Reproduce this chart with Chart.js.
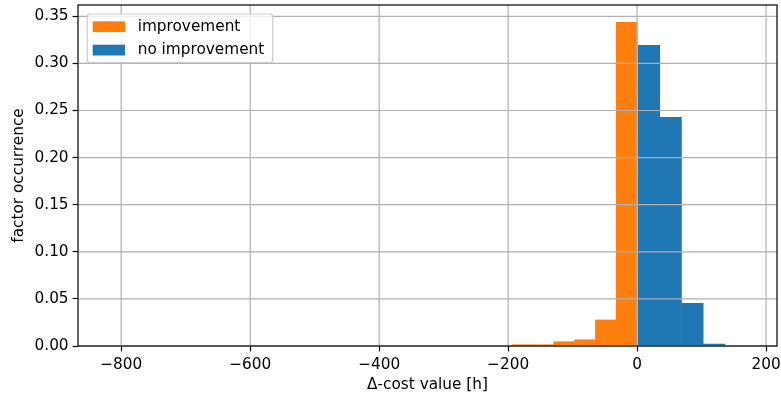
<!DOCTYPE html>
<html>
<head>
<meta charset="utf-8">
<script src="https://cdn.jsdelivr.net/npm/chart.js@4/dist/chart.umd.min.js"></script>
<style>
  html, body { margin: 0; padding: 0; background: #ffffff; }
  #wrap { width: 781px; height: 396px; }
</style>
</head>
<body>
<div id="wrap"><canvas id="c" width="781" height="396"></canvas></div>
<script>
// Histogram of Δ-cost values, split into runs that improved and runs that did not.
const improvementBinWidth = 32.3;
const improvementCenters = [-177.65, -145.35, -113.05, -80.75, -48.45, -16.15];
const improvementValues  = [0.0017, 0.0017, 0.0049, 0.0070, 0.0280, 0.3440];

const noImprovementBinWidth = 33.7;
const noImprovementCenters = [18.35, 52.05, 85.75, 119.45];
const noImprovementValues  = [0.3195, 0.2430, 0.0456, 0.0024];

const seriesLabels = ['improvement', 'no improvement'];
const seriesColors = ['#ff7f0e', '#1f77b4'];

const xTickValues = [-800, -600, -400, -200, 0, 200];
const yTickStep = 0.05;
const xRange = [-867, 217];
const yRange = [0, 0.362];

const FONT = 'DejaVu Sans';
const FS = 15.3;
const GRID_COLOR = '#b0b0b0';
// neighbouring bars overlap slightly so no hairline gap shows between them
const BAR_OVERLAP = 0.9;

Chart.defaults.font.family = FONT;
Chart.defaults.font.size = FS;
Chart.defaults.color = '#000000';

// Bars on a linear x scale take their width from the smallest spacing between bar centres.
const allCenters = improvementCenters.concat(noImprovementCenters).sort((a, b) => a - b);
let minSpacing = Infinity;
for (let i = 1; i < allCenters.length; i++) minSpacing = Math.min(minSpacing, allCenters[i] - allCenters[i - 1]);

const toPoints = (xs, ys) => xs.map((x, i) => ({ x, y: ys[i] }));

// Grid lines sit above the bars; frame and legend are drawn last.
const overlay = {
  id: 'overlay',
  afterDatasetsDraw(chart) {
    const { ctx, chartArea: a, scales } = chart;
    ctx.save();
    ctx.strokeStyle = GRID_COLOR;
    ctx.lineWidth = 1.2;
    ctx.beginPath();
    scales.x.ticks.forEach(t => {
      const px = scales.x.getPixelForValue(t.value);
      ctx.moveTo(px, a.top); ctx.lineTo(px, a.bottom);
    });
    scales.y.ticks.forEach(t => {
      const py = scales.y.getPixelForValue(t.value);
      ctx.moveTo(a.left, py); ctx.lineTo(a.right, py);
    });
    ctx.stroke();
    ctx.restore();
  },
  afterDraw(chart) {
    const { ctx, chartArea: a } = chart;
    ctx.save();
    ctx.strokeStyle = '#000000';
    ctx.lineWidth = 1.2;
    ctx.strokeRect(a.left, a.top, a.right - a.left, a.bottom - a.top);

    const bx = a.left + 9.3, by = a.top + 9, bw = 185.4, bh = 48.7, r = 3;
    ctx.beginPath();
    ctx.moveTo(bx + r, by);
    ctx.lineTo(bx + bw - r, by);
    ctx.quadraticCurveTo(bx + bw, by, bx + bw, by + r);
    ctx.lineTo(bx + bw, by + bh - r);
    ctx.quadraticCurveTo(bx + bw, by + bh, bx + bw - r, by + bh);
    ctx.lineTo(bx + r, by + bh);
    ctx.quadraticCurveTo(bx, by + bh, bx, by + bh - r);
    ctx.lineTo(bx, by + r);
    ctx.quadraticCurveTo(bx, by, bx + r, by);
    ctx.closePath();
    ctx.fillStyle = 'rgba(255,255,255,0.8)';
    ctx.fill();
    ctx.strokeStyle = '#cccccc';
    ctx.lineWidth = 1.2;
    ctx.stroke();

    ctx.font = FS + 'px "' + FONT + '"';
    ctx.textBaseline = 'middle';
    ctx.textAlign = 'left';
    chart.data.datasets.forEach((ds, i) => {
      const py = by + 7.3 + i * 23.4;
      ctx.fillStyle = ds.backgroundColor;
      ctx.fillRect(bx + 5.4, py, 32.3, 10.8);
      ctx.fillStyle = '#000000';
      ctx.fillText(ds.label, bx + 50.4, py + 5.6);
    });
    ctx.restore();
  }
};

const gridOpts = {
  offset: false,
  drawOnChartArea: false,
  color: GRID_COLOR,
  tickColor: '#000000', tickWidth: 1.2, tickLength: 5.4,
};

new Chart(document.getElementById('c'), {
  type: 'bar',
  data: {
    datasets: [
      {
        label: seriesLabels[0],
        data: toPoints(improvementCenters, improvementValues),
        backgroundColor: seriesColors[0],
        barPercentage: (improvementBinWidth + BAR_OVERLAP) / minSpacing,
      },
      {
        label: seriesLabels[1],
        data: toPoints(noImprovementCenters, noImprovementValues),
        backgroundColor: seriesColors[1],
        barPercentage: (noImprovementBinWidth + BAR_OVERLAP) / minSpacing,
      }
    ]
  },
  options: {
    responsive: false,
    devicePixelRatio: 1,
    animation: false,
    grouped: false,
    categoryPercentage: 1,
    borderWidth: 0,
    layout: { padding: { top: 5, right: 4, left: 0, bottom: 0 } },
    plugins: { legend: { display: false }, tooltip: { enabled: false } },
    scales: {
      x: {
        type: 'linear',
        offset: false,
        min: xRange[0],
        max: xRange[1],
        afterFit: (s) => { s.height = 50; s.paddingLeft = 0; s.paddingRight = 0; },
        afterBuildTicks: (s) => { s.ticks = xTickValues.map(v => ({ value: v })); },
        ticks: {
          includeBounds: false,
          padding: 4,
          maxRotation: 0,
          autoSkip: false,
          color: '#000000',
          callback: (v) => String(v).replace('-', '\u2212'),
        },
        grid: gridOpts,
        border: { display: false },
        title: { display: true, text: 'Δ-cost value [h]', color: '#000000', padding: { top: 0, bottom: 1.8 } },
      },
      y: {
        min: yRange[0],
        max: yRange[1],
        afterFit: (s) => { s.width = 78; s.paddingTop = 0; s.paddingBottom = 0; },
        ticks: {
          includeBounds: false,
          stepSize: yTickStep,
          padding: 4,
          color: '#000000',
          callback: (v) => v.toFixed(2),
        },
        grid: gridOpts,
        border: { display: false },
        title: { display: true, text: 'factor occurrence', color: '#000000', padding: { top: 10, bottom: 0 } },
      }
    }
  },
  plugins: [overlay]
});
</script>
</body>
</html>
